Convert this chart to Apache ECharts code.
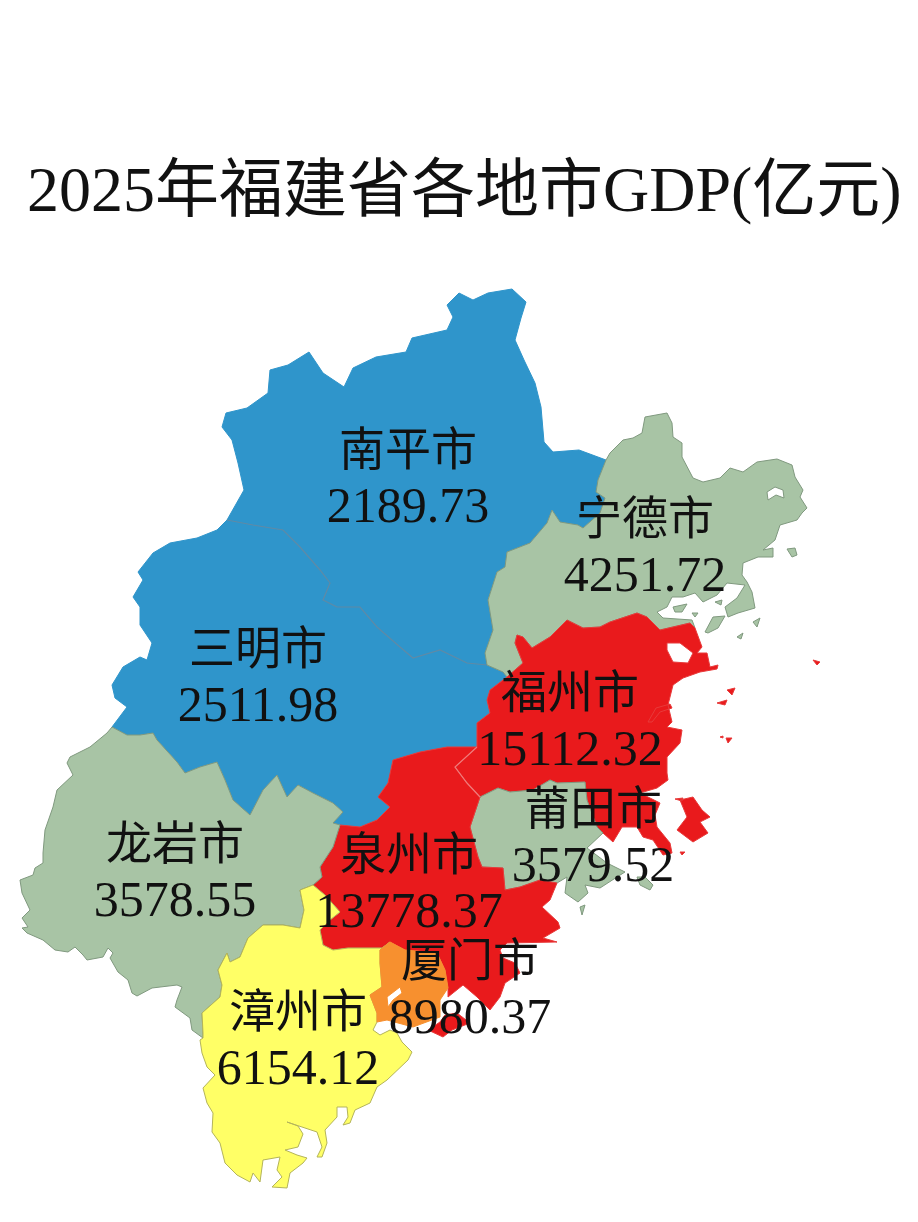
<!DOCTYPE html>
<html>
<head>
<meta charset="utf-8">
<title>2025年福建省各地市GDP</title>
<script src="https://cdn.jsdelivr.net/npm/echarts@6/dist/echarts.min.js"></script>
<style>
  html, body { margin: 0; padding: 0; background: #fff; }
  #chart { width: 918px; height: 1222px; }
</style>
</head>
<body>
<div id="chart"></div>
<script>
const cities = ['南平市', '三明市', '宁德市', '福州市', '莆田市', '泉州市', '龙岩市', '漳州市', '厦门市'];
const gdp = [2189.73, 2511.98, 4251.72, 15112.32, 3579.52, 13778.37, 3578.55, 6154.12, 8980.37];
const cityColors = ['#2f95cb', '#2f95cb', '#a8c4a5', '#e91a1c', '#a8c4a5', '#e91a1c', '#a8c4a5', '#ffff66', '#f7902f'];
const cityEdges = ['#2f95cb', '#2f95cb', '#80997f', '#e83a3a', '#80997f', '#e83a3a', '#80997f', '#b4b45a', '#f7902f'];
// where each name + value label sits, in picture pixels
const labelSpots = [[408, 481], [258, 680], [645, 550], [570, 724], [593, 840], [409, 886], [175, 875], [298, 1043], [470, 992]];

// outlines, shared borders kept once
const npNorth = [[227,520],[244,490],[238,463],[232,440],[222,427],[226,413],[247,408],[268,393],[270,370],[288,365],[309,352],[323,373],[344,387],[353,368],[376,357],[406,352],[412,338],[447,330],[453,317],[447,305],[459,293],[473,300],[488,293],[512,289],[526,302],[521,318],[515,340],[524,360],[535,383],[541,407],[544,442],[553,452],[579,450],[606,460]];
const npNd = [[606,460],[598,480],[596,492],[605,498],[600,513],[583,528],[578,525],[560,522],[552,510],[547,523],[530,543],[507,552],[505,567],[497,572],[488,600],[493,630],[485,653],[487,665]];
const npSm = [[227,520],[253,525],[283,530],[300,547],[320,570],[330,583],[323,600],[337,607],[360,607],[377,627],[400,647],[413,658],[440,650],[467,663],[487,665]];
const smNd = [[487,665],[503,672],[507,677]];
const smFz = [[507,677],[490,690],[487,700],[490,713],[477,723],[477,747]];
const smQz = [[477,747],[447,747],[420,752],[393,760],[388,783],[378,797],[390,807],[377,820],[360,827],[340,825]];
const smLy = [[340,825],[333,823],[343,812],[333,803],[313,793],[298,785],[287,797],[277,775],[263,790],[250,815],[233,800],[225,780],[217,762],[200,767],[185,773],[177,762],[157,740],[153,733],[140,735],[127,735],[112,727]];
const smWest = [[112,727],[115,723],[127,707],[115,698],[112,685],[123,667],[140,657],[147,660],[152,643],[140,625],[140,607],[133,597],[143,580],[138,572],[153,553],[170,543],[197,538],[217,530],[227,520]];
const ndCoast = [[606,460],[610,453],[623,440],[633,438],[642,433],[645,417],[667,413],[672,423],[673,437],[682,443],[682,457],[693,478],[703,482],[720,478],[730,468],[743,472],[757,462],[777,459],[792,465],[795,477],[803,490],[800,497],[807,508],[802,513],[797,520],[780,525],[775,540],[763,550],[773,548],[773,557],[758,557],[743,563],[742,575],[747,582],[752,592],[755,608],[738,613],[728,617],[725,607],[737,598],[745,585],[727,583],[717,595],[703,602],[695,593],[683,597],[672,597],[667,607],[657,612],[663,618],[692,620],[695,628]];
const ndFz = [[507,677],[523,663],[515,643],[517,635],[523,637],[532,648],[550,637],[557,630],[567,620],[583,628],[600,627],[610,622],[637,613],[647,617],[660,630],[690,623],[695,628]];
const fzCoast = [[695,628],[702,647],[697,653],[707,653],[710,667],[718,665],[717,669],[700,672],[683,678],[673,685],[670,697],[668,705],[672,722],[667,727],[682,730],[680,743],[667,757],[667,773],[668,780],[657,788],[640,793],[660,803],[655,815],[657,827],[670,843],[672,853],[663,855],[653,840],[643,837],[637,827],[622,827],[613,842],[603,833],[597,827],[587,800],[585,782]];
const fzPt = [[585,782],[557,783],[550,780],[533,790],[510,792],[498,788],[480,797]];
const fzQz = [[477,747],[455,767],[467,783],[480,797]];
const ptCoast = [[585,782],[587,800],[597,827],[603,833],[587,848],[607,863],[625,872],[617,877],[600,888],[585,885],[588,893],[578,902],[565,893],[567,877],[557,883]];
const ptQz = [[557,883],[540,880],[520,887],[505,890],[503,868],[482,867],[478,857],[470,827],[480,797]];
const qzCoast = [[557,883],[550,900],[542,907],[558,922],[560,928],[543,938],[557,942],[507,943],[500,950],[503,958],[515,963],[520,973],[505,983],[500,997],[490,1010],[477,997],[463,985],[448,997],[448,988]];
const qzXm = [[390,942],[405,950],[437,953],[445,970],[448,988]];
const qzZz = [[390,942],[382,948],[360,948],[348,948],[333,950],[323,945],[320,930],[330,920],[340,912],[325,895],[313,885]];
const lyQz = [[340,825],[333,847],[320,867],[322,877],[313,885]];
const lyZz = [[313,885],[300,890],[304,910],[300,928],[283,925],[263,925],[248,938],[240,957],[230,962],[227,953],[218,970],[222,985],[220,997],[202,1013],[203,1033],[203,1038]];
const lyWest = [[203,1038],[192,1030],[190,1018],[175,1007],[177,1000],[182,987],[177,985],[152,988],[137,996],[132,993],[128,980],[118,972],[110,958],[113,953],[108,948],[103,957],[87,960],[83,955],[75,947],[68,952],[55,950],[43,940],[27,933],[22,928],[28,927],[22,918],[30,910],[22,893],[20,880],[33,875],[35,868],[43,863],[43,853],[45,830],[53,807],[57,790],[73,775],[67,763],[70,757],[90,747],[107,733],[112,727]];
const xmCoast = [[448,988],[440,1000],[440,1017],[413,1027],[387,1020],[377,1022]];
const xmZz = [[377,1022],[377,1013],[370,995],[382,987],[380,963],[380,950],[390,942]];
const zzCoast = [[377,1022],[373,1030],[380,1035],[390,1030],[397,1033],[402,1042],[412,1052],[408,1060],[387,1080],[377,1087],[370,1103],[355,1110],[350,1123],[343,1125],[348,1117],[347,1107],[337,1107],[337,1117],[325,1130],[327,1143],[322,1157],[317,1157],[322,1147],[317,1132],[287,1122],[298,1126],[303,1134],[298,1147],[285,1150],[297,1155],[307,1158],[303,1163],[290,1173],[287,1188],[272,1187],[282,1177],[277,1170],[280,1157],[263,1160],[260,1182],[253,1173],[250,1182],[237,1175],[225,1163],[220,1143],[212,1132],[213,1113],[207,1103],[203,1088],[215,1075],[207,1067],[202,1053],[200,1040],[203,1038]];

const ndHole = [[767,492],[775,487],[783,490],[784,498],[776,495],[768,500]];
const fzBay = [[667,643],[680,643],[693,653],[688,663],[673,662],[667,650]];
const fzSlit = [[670,704],[656,708],[648,722],[652,722],[660,712],[672,708]];
const xmHole = [[387,997],[400,987],[402,993],[393,1000],[388,1007]];

const ndIslands = [
  [[705,632],[713,617],[725,616],[718,628],[708,633]],
  [[673,607],[687,604],[682,612],[675,612]],
  [[692,613],[698,613],[695,617]],
  [[715,602],[722,600],[721,605]],
  [[753,622],[760,618],[757,627]],
  [[737,637],[743,633],[741,639]],
  [[787,549],[795,548],[797,555],[792,557]]
];
const fzIslands = [
  [[680,800],[693,797],[702,810],[710,817],[700,822],[708,833],[693,842],[677,830],[687,817]],
  [[675,799],[683,798],[682,801]],
  [[717,703],[727,700],[725,705]],
  [[727,690],[735,688],[732,695]],
  [[720,737],[723,736],[723,738]],
  [[726,738],[732,738],[728,743]],
  [[813,660],[820,662],[817,665]],
  [[680,852],[685,852],[682,855]]
];
const ptIslands = [
  [[637,877],[645,877],[653,885],[650,890],[640,885]],
  [[580,907],[585,905],[582,915]]
];
const qzIslands = [
  [[440,1022],[445,1015],[457,1013],[470,1023],[452,1030],[443,1037],[428,1030]]
];

const rev = a => a.slice().reverse();

// one polygon list per city, same order as cities
const cityShapes = [
  [[npNorth.concat(npNd, rev(npSm))]],
  [[npSm.concat(smNd, smFz, smQz, smLy, smWest)]],
  [[ndCoast.concat(rev(ndFz), rev(smNd), rev(npNd)), rev(ndHole)]].concat(ndIslands.map(p => [p])),
  [[ndFz.concat(fzCoast, fzPt, rev(fzQz), rev(smFz)), rev(fzBay), rev(fzSlit)]].concat(fzIslands.map(p => [p])),
  [[rev(fzPt).concat(ptCoast, ptQz)]].concat(ptIslands.map(p => [p])),
  [[fzQz.concat(rev(ptQz), qzCoast, rev(qzXm), qzZz, rev(lyQz), rev(smQz))]].concat(qzIslands.map(p => [p])),
  [[rev(smLy).concat(lyQz, lyZz, lyWest)]],
  [[rev(lyZz).concat(rev(qzZz), rev(xmZz), zzCoast)]],
  [[qzXm.concat(xmCoast, xmZz), rev(xmHole)]]
];

const features = cities.map((name, i) => ({
  type: 'Feature',
  properties: { name: name, cp: labelSpots[i] },
  geometry: { type: 'MultiPolygon', coordinates: cityShapes[i] }
}));
// the two faint borders inside a same-coloured block
const innerBorders = [
  { name: '南平三明界', line: npSm, color: '#5f8aa6' },
  { name: '福州泉州界', line: fzQz, color: '#f07a7a' }
];
innerBorders.forEach(b => {
  features.push({
    type: 'Feature',
    properties: { name: b.name },
    geometry: { type: 'LineString', coordinates: b.line }
  });
});
echarts.registerMap('fujian', { type: 'FeatureCollection', features: features });

const chart = echarts.init(document.getElementById('chart'));
const latinThenCjk = '"Liberation Serif","Noto Sans CJK SC"';

const seriesData = cities.map((name, i) => ({
  name: name,
  value: gdp[i],
  itemStyle: { areaColor: cityColors[i], borderColor: cityEdges[i], borderWidth: 1 }
})).concat(innerBorders.map(b => ({
  name: b.name,
  itemStyle: { areaColor: 'transparent', borderColor: b.color, borderWidth: 1.2 },
  label: { show: false }
})));

chart.setOption({
  backgroundColor: '#fff',
  animation: false,
  title: {
    text: '2025年福建省各地市GDP(亿元)',
    left: 22,
    top: 157,
    textStyle: { fontFamily: latinThenCjk, fontSize: 64, fontWeight: 'normal', color: '#111' }
  },
  series: [{
    type: 'map',
    map: 'fujian',
    silent: true,
    // outlines are already in picture pixels
    projection: { project: p => p, unproject: p => p },
    boundingCoords: [[0, 0], [918, 1222]],
    left: 0,
    top: 0,
    width: 918,
    height: 1222,
    label: {
      show: true,
      formatter: p => '{n|' + p.name + '}\n{v|' + p.value + '}',
      rich: {
        n: { fontFamily: latinThenCjk, fontSize: 46, lineHeight: 56, color: '#111' },
        v: { fontFamily: latinThenCjk, fontSize: 50, lineHeight: 56, color: '#111' }
      }
    },
    data: seriesData
  }]
});
</script>
</body>
</html>
